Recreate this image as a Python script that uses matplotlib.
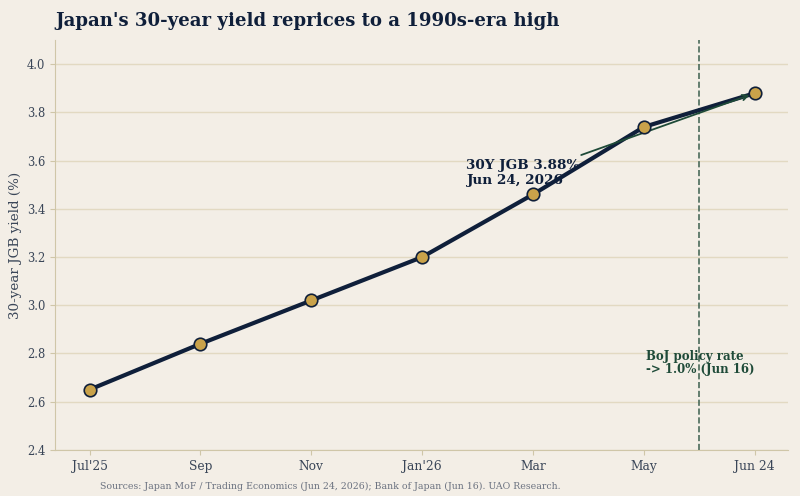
import matplotlib.pyplot as plt

months = ["Jul'25", "Sep", "Nov", "Jan'26", "Mar", "May", "Jun 24"]
yields = [2.65, 2.84, 3.02, 3.20, 3.46, 3.74, 3.88]

bg = '#f3eee6'
navy = '#0f1f3a'
green = '#1e4a38'

plt.rcParams['font.family'] = ['DejaVu Serif']

fig = plt.figure(figsize=(8, 4.96), dpi=100)
fig.patch.set_facecolor(bg)
ax = fig.add_axes([0.069, 0.093, 0.916, 0.826])
ax.set_facecolor(bg)

x_pos = list(range(len(months)))
ax.plot(x_pos, yields, color=navy, lw=3, zorder=3)
ax.plot(x_pos, yields, 'o', color='#c9a24a', markeredgecolor=navy,
        markeredgewidth=1.2, markersize=9, zorder=4)

ax.axvline(5.5, color='#4a6a5a', ls='--', lw=1.2, zorder=2)

ax.annotate("30Y JGB 3.88%\nJun 24, 2026", xy=(6, 3.88), xytext=(3.4, 3.55),
            fontsize=9.7, fontweight='bold', color=navy, ha='left', va='center',
            arrowprops=dict(arrowstyle='->', color=green, lw=1.3,
                            relpos=(0.92, 1.0), shrinkB=4))
ax.text(5.02, 2.76, "BoJ policy rate\n-> 1.0% (Jun 16)", fontsize=8.5,
        fontweight='bold', color=green, ha='left', va='center', linespacing=1.0)

ax.set_xticks(x_pos, months)
ax.set_xlim(-0.31, 6.3)
ax.set_ylim(2.4, 4.1)
ax.set_yticks([2.4, 2.6, 2.8, 3.0, 3.2, 3.4, 3.6, 3.8, 4.0])
ax.yaxis.grid(True, color='#e2d9c2', lw=1)
ax.set_axisbelow(True)
for s in ['top', 'right']:
    ax.spines[s].set_visible(False)
for s in ['left', 'bottom']:
    ax.spines[s].set_color('#cfc6a8')
ax.tick_params(colors='#cfc6a8', labelcolor='#3a4658', labelsize=8.3)
ax.tick_params(axis='x', labelsize=8.8)
ax.set_ylabel("30-year JGB yield (%)", fontsize=9.7, color='#3a4658')

fig.text(0.069, 0.958, "Japan's 30-year yield reprices to a 1990s-era high",
         fontsize=13.1, fontweight='bold', color=navy, ha='left', va='center')
fig.text(0.125, 0.02, "Sources: Japan MoF / Trading Economics (Jun 24, 2026); Bank of Japan (Jun 16). UAO Research.",
         fontsize=7.5, fontstretch='condensed', color='#6b7280', ha='left', va='center')

plt.savefig('out.png', facecolor=bg)
